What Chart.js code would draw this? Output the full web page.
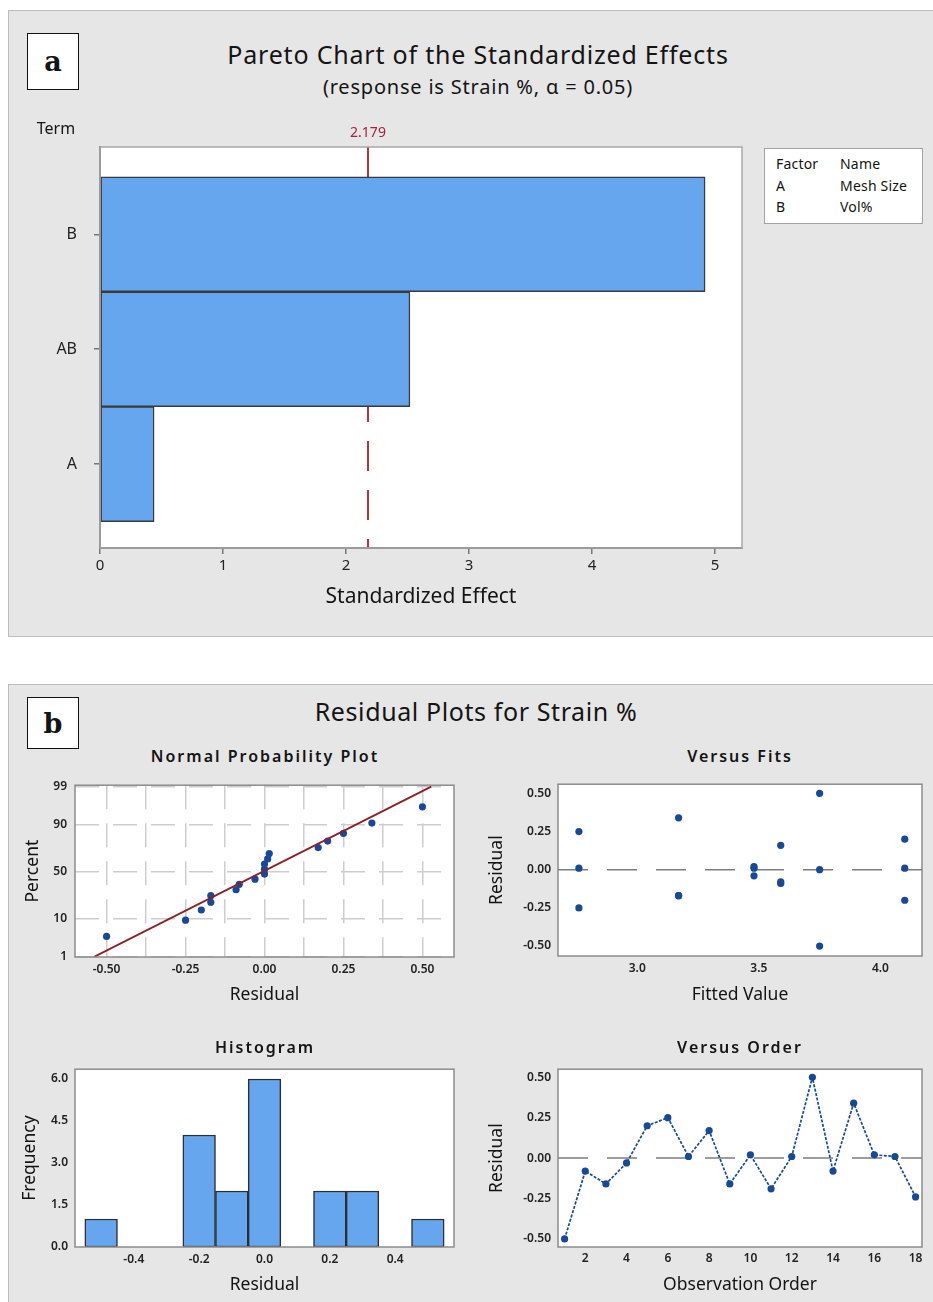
<!DOCTYPE html>
<html>
<head>
<meta charset="utf-8">
<script src="https://cdn.jsdelivr.net/npm/chart.js@4.4.0/dist/chart.umd.min.js"></script>
<style>
    body { margin: 0; width: 933px; height: 1302px; position: relative; overflow: hidden; background: #fff; font-family: "Noto Sans", sans-serif; color: #141414; }
    .panel { position: absolute; left: 8px; width: 940px; background: #e6e6e6; border: 1.5px solid #bdbdbd; box-sizing: border-box; }
    canvas { position: absolute; }
    .c { position: absolute; transform: translate(-50%, -50%); white-space: nowrap; line-height: 1; }
    .tag { position: absolute; background: #fff; border: 1.5px solid #111; box-sizing: border-box; font-family: "DejaVu Serif", "Liberation Serif", serif; font-weight: bold; font-size: 27px; display: flex; align-items: center; justify-content: center; }
    .sub { font-size: 16px; font-weight: 600; letter-spacing: 2px; }
    .legend { position: absolute; left: 764px; top: 148px; width: 159px; height: 76px; background: #fff; border: 1.5px solid #a3a3a3; box-sizing: border-box; font-size: 14px; letter-spacing: 0.2px; }
    .legend div { position: absolute; line-height: 1; }
</style>
</head>
<body>
<div class="panel" style="top:10px;height:627px"></div>
<div class="panel" style="top:684px;height:640px"></div>

<canvas id="paretoChart" width="925" height="536" style="left:8px;top:100px"></canvas>
<canvas id="nppChart" width="460" height="240" style="left:10px;top:770px"></canvas>
<canvas id="fitsChart" width="463" height="240" style="left:470px;top:770px"></canvas>
<canvas id="histChart" width="460" height="247" style="left:10px;top:1055px"></canvas>
<canvas id="orderChart" width="463" height="247" style="left:470px;top:1055px"></canvas>

<div class="tag" style="left:27px;top:33px;width:52px;height:57px">a</div>
<div class="c" style="left:478px;top:54px;font-size:25px;letter-spacing:0.8px">Pareto Chart of the Standardized Effects</div>
<div class="c" style="left:478px;top:87px;font-size:20px;letter-spacing:0.8px">(response is Strain %, α = 0.05)</div>
<div class="c" style="left:56px;top:128px;font-size:16px">Term</div>
<div class="legend">
    <div style="left:11px;top:8px">Factor</div><div style="left:75px;top:8px">Name</div>
    <div style="left:11px;top:30px">A</div><div style="left:75px;top:30px">Mesh Size</div>
    <div style="left:11px;top:51px">B</div><div style="left:75px;top:51px">Vol%</div>
</div>

<div class="tag" style="left:27px;top:697px;width:52px;height:52px">b</div>
<div class="c" style="left:476px;top:711px;font-size:25px;letter-spacing:0.6px">Residual Plots for Strain %</div>
<div class="c sub" style="left:265px;top:756px">Normal Probability Plot</div>
<div class="c sub" style="left:740px;top:756px">Versus Fits</div>
<div class="c sub" style="left:265px;top:1047px">Histogram</div>
<div class="c sub" style="left:740px;top:1047px">Versus Order</div>

<script>
// ================= DATA =================
const paretoTerms = ["A", "AB", "B"];
const paretoEffects = [0.44, 2.52, 4.92];
const paretoLimit = 2.179;
const paretoXTicks = [0, 1, 2, 3, 4, 5];

// normal probability plot (sorted residuals vs percent)
const nppResidual = [-0.50, -0.25, -0.20, -0.17, -0.17, -0.09, -0.08, -0.03, 0.00, 0.00, 0.00, 0.01, 0.015, 0.17, 0.20, 0.25, 0.34, 0.50];
const nppPercent = [3.8, 9.2, 14.7, 20.1, 25.5, 31.0, 36.4, 41.8, 47.3, 52.7, 58.2, 63.6, 69.0, 74.5, 79.9, 85.3, 90.8, 96.2];
const nppFitResidual = [-0.538, 0.528];
const nppFitPercent = [1, 99];
const nppXTicks = [-0.5, -0.375, -0.25, -0.125, 0, 0.125, 0.25, 0.375, 0.5];
const nppYTicks = [1, 10, 50, 90, 99];

// versus fits
const fitsFitted = [2.76, 2.76, 2.76, 3.17, 3.17, 3.17, 3.48, 3.48, 3.48, 3.59, 3.59, 3.59, 3.75, 3.75, 3.75, 4.10, 4.10, 4.10];
const fitsResidual = [0.25, 0.01, -0.25, 0.34, -0.17, -0.17, 0.02, 0.01, -0.04, 0.16, -0.09, -0.08, 0.50, 0.00, -0.50, 0.20, 0.01, -0.20];
const fitsXTicks = [3.0, 3.5, 4.0];
const residTicks = [-0.50, -0.25, 0.00, 0.25, 0.50];

// histogram
const histCenters = [-0.5, -0.4, -0.3, -0.2, -0.1, 0.0, 0.1, 0.2, 0.3, 0.4, 0.5];
const histCounts = [1, 0, 0, 4, 2, 6, 0, 2, 2, 0, 1];
const histXTicks = [-0.4, -0.2, 0.0, 0.2, 0.4];
const histYTicks = [0, 1.5, 3.0, 4.5, 6.0];

// versus order
const orderObs = [1, 2, 3, 4, 5, 6, 7, 8, 9, 10, 11, 12, 13, 14, 15, 16, 17, 18];
const orderResidual = [-0.50, -0.08, -0.16, -0.03, 0.20, 0.25, 0.01, 0.17, -0.16, 0.02, -0.19, 0.01, 0.50, -0.08, 0.34, 0.02, 0.01, -0.24];
const orderXTicks = [2, 4, 6, 8, 10, 12, 14, 16, 18];

// ================= HELPERS =================
const BAR_BLUE = "#65a6ee";
const DOT_BLUE = "#16499a";

Chart.defaults.font.family = "'Noto Sans', sans-serif";
Chart.defaults.color = "#222";

// inverse normal cdf (Acklam), used for the probability axis
function probit(p) {
    const a = [-39.6968302866538, 220.946098424521, -275.928510446969, 138.357751867269, -30.6647980661472, 2.50662827745924];
    const b = [-54.4760987982241, 161.585836858041, -155.698979859887, 66.8013118877197, -13.2806815528857];
    const c = [-0.00778489400243029, -0.322396458041136, -2.40075827716184, -2.54973253934373, 4.37466414146497, 2.93816398269878];
    const d = [0.00778469570904146, 0.32246712907004, 2.445134137143, 3.75440866190742];
    const pl = 0.02425;
    let q, r;
    if (p < pl) {
        q = Math.sqrt(-2 * Math.log(p));
        return (((((c[0] * q + c[1]) * q + c[2]) * q + c[3]) * q + c[4]) * q + c[5]) / ((((d[0] * q + d[1]) * q + d[2]) * q + d[3]) * q + 1);
    }
    if (p > 1 - pl) {
        q = Math.sqrt(-2 * Math.log(1 - p));
        return -(((((c[0] * q + c[1]) * q + c[2]) * q + c[3]) * q + c[4]) * q + c[5]) / ((((d[0] * q + d[1]) * q + d[2]) * q + d[3]) * q + 1);
    }
    q = p - 0.5;
    r = q * q;
    return (((((a[0] * r + a[1]) * r + a[2]) * r + a[3]) * r + a[4]) * r + a[5]) * q / (((((b[0] * r + b[1]) * r + b[2]) * r + b[3]) * r + b[4]) * r + 1);
}

function setTicks(values) {
    return axis => { axis.ticks = values.map(v => ({ value: v })); };
}

// white plot area + grey frame round it
const framePlugin = {
    id: "frame",
    beforeDraw(chart) {
        const a = chart.chartArea, ctx = chart.ctx;
        ctx.save();
        ctx.fillStyle = "#fff";
        ctx.fillRect(a.left, a.top, a.right - a.left, a.bottom - a.top);
        ctx.restore();
    },
    afterDatasetsDraw(chart, args, opts) {
        const a = chart.chartArea, ctx = chart.ctx;
        ctx.save();
        ctx.strokeStyle = opts.color || "#8c8c8c";
        ctx.lineWidth = opts.width || 1.5;
        ctx.strokeRect(a.left, a.top, a.right - a.left, a.bottom - a.top);
        ctx.restore();
    }
};

const refLinePlugin = {
    id: "refLine",
    beforeDatasetsDraw(chart, args, opts) {
        if (opts.value === undefined) return;
        const a = chart.chartArea, ctx = chart.ctx;
        ctx.save();
        ctx.strokeStyle = opts.color;
        ctx.lineWidth = opts.width;
        ctx.setLineDash(opts.dash);
        ctx.beginPath();
        if (opts.axis === "x") {
            const px = chart.scales.x.getPixelForValue(opts.value);
            ctx.moveTo(px, a.top);
            ctx.lineTo(px, a.bottom);
            ctx.stroke();
            if (opts.label) {
                ctx.setLineDash([]);
                ctx.fillStyle = opts.labelColor;
                ctx.font = opts.labelFont;
                ctx.textAlign = "center";
                ctx.textBaseline = "middle";
                ctx.fillText(opts.label, px, a.top - 14);
            }
        } else {
            const py = chart.scales.y.getPixelForValue(opts.value);
            ctx.moveTo(a.left, py);
            ctx.lineTo(a.right, py);
            ctx.stroke();
        }
        ctx.restore();
    }
};

const tickFont = { size: 12, weight: "600" };
const titleFont = { size: 17.5 };

function zeroLine() {
    return { axis: "y", value: 0, color: "#7d7d7d", width: 1.5, dash: [30, 19] };
}

// ================= PARETO CHART =================
new Chart(document.getElementById("paretoChart"), {
    type: "bar",
    data: {
        datasets: [{
            data: paretoEffects.map((v, i) => ({ x: v, y: i + 1 })),
            backgroundColor: BAR_BLUE,
            borderColor: "#3a3a3a",
            borderWidth: 1.5,
            borderSkipped: false,
            barPercentage: 1,
            categoryPercentage: 1
        }]
    },
    options: {
        indexAxis: "y",
        responsive: false,
        animation: false,
        devicePixelRatio: 1,
        layout: { padding: { left: 0, top: 47, right: 191, bottom: 0 } },
        plugins: {
            legend: { display: false },
            tooltip: { enabled: false },
            frame: { color: "#a8a8a8", width: 1.5 },
            refLine: { axis: "x", value: paretoLimit, color: "#b8303c", width: 2, dash: [30, 19],
                label: String(paretoLimit), labelColor: "#a3223f", labelFont: "14px 'Noto Sans'" }
        },
        scales: {
            x: {
                type: "linear", min: 0, max: 5.22, offset: false,
                afterBuildTicks: setTicks(paretoXTicks),
                afterFit: ax => { ax.height = 88; },
                grid: { drawOnChartArea: false, drawTicks: true, tickLength: 6, color: "#777", lineWidth: 1.5, offset: false },
                border: { color: "#777", width: 2 },
                ticks: { font: { size: 15 }, padding: 3, color: "#222" },
                title: { display: true, text: "Standardized Effect", font: { size: 21 }, color: "#141414", padding: { top: 0, bottom: 26 } }
            },
            y: {
                type: "linear", min: 0.27, max: 3.76, offset: false,
                afterBuildTicks: setTicks(paretoTerms.map((t, i) => i + 1)),
                afterFit: ax => { ax.width = 92; },
                grid: { drawOnChartArea: false, drawTicks: true, tickLength: 6, color: "#777", lineWidth: 1.5, offset: false },
                border: { color: "#777", width: 2 },
                ticks: { font: { size: 16 }, padding: 17, color: "#222", callback: v => paretoTerms[v - 1] }
            }
        }
    },
    plugins: [refLinePlugin, framePlugin]
});

// ================= NORMAL PROBABILITY PLOT =================
new Chart(document.getElementById("nppChart"), {
    type: "scatter",
    data: {
        datasets: [
            {
                data: nppFitResidual.map((v, i) => ({ x: v, y: probit(nppFitPercent[i] / 100) })),
                showLine: true,
                borderColor: "#8e1f24",
                borderWidth: 1.8,
                pointRadius: 0
            },
            {
                data: nppResidual.map((v, i) => ({ x: v, y: probit(nppPercent[i] / 100) })),
                backgroundColor: DOT_BLUE,
                borderWidth: 0,
                pointRadius: 3.6
            }
        ]
    },
    options: {
        responsive: false,
        animation: false,
        devicePixelRatio: 1,
        layout: { padding: { left: 0, top: 13, right: 16, bottom: 0 } },
        plugins: { legend: { display: false }, tooltip: { enabled: false }, frame: {} },
        scales: {
            x: {
                type: "linear", min: -0.6, max: 0.6,
                afterBuildTicks: setTicks(nppXTicks),
                afterFit: ax => { ax.height = 53; },
                grid: { color: "#cdcdcd", lineWidth: 1.5, drawTicks: false },
                border: { display: false, dash: [24, 14] },
                ticks: {
                    font: tickFont, padding: 5,
                    callback: v => Math.abs(v * 4 - Math.round(v * 4)) < 1e-6 ? v.toFixed(2) : ""
                },
                title: { display: true, text: "Residual", font: titleFont, color: "#141414", padding: { top: 0, bottom: 4 } }
            },
            y: {
                type: "linear", min: probit(0.01) - 0.01, max: probit(0.99) + 0.04,
                afterBuildTicks: setTicks(nppYTicks.map(p => probit(p / 100))),
                afterFit: ax => { ax.width = 65; },
                grid: { color: "#cdcdcd", lineWidth: 1.5, drawTicks: false },
                border: { display: false, dash: [24, 14] },
                ticks: { font: tickFont, padding: 8, callback: (v, i) => String(nppYTicks[i]) },
                title: { display: true, text: "Percent", font: titleFont, color: "#141414", padding: { top: 13, bottom: 0 } }
            }
        }
    },
    plugins: [framePlugin]
});

// ================= VERSUS FITS =================
new Chart(document.getElementById("fitsChart"), {
    type: "scatter",
    data: {
        datasets: [{
            data: fitsFitted.map((v, i) => ({ x: v, y: fitsResidual[i] })),
            backgroundColor: DOT_BLUE,
            borderWidth: 0,
            pointRadius: 3.6
        }]
    },
    options: {
        responsive: false,
        animation: false,
        devicePixelRatio: 1,
        layout: { padding: { left: 0, top: 14, right: 11, bottom: 0 } },
        plugins: { legend: { display: false }, tooltip: { enabled: false }, frame: {}, refLine: zeroLine() },
        scales: {
            x: {
                type: "linear", min: 2.674, max: 4.171,
                afterBuildTicks: setTicks(fitsXTicks),
                afterFit: ax => { ax.height = 54; },
                grid: { display: false, drawTicks: false },
                border: { display: false },
                ticks: { font: tickFont, padding: 5, callback: v => v.toFixed(1) },
                title: { display: true, text: "Fitted Value", font: titleFont, color: "#141414", padding: { top: 0, bottom: 4 } }
            },
            y: {
                type: "linear", min: -0.565, max: 0.56,
                afterBuildTicks: setTicks(residTicks),
                afterFit: ax => { ax.width = 88; },
                grid: { display: false, drawTicks: false },
                border: { display: false },
                ticks: { font: tickFont, padding: 7, callback: v => v.toFixed(2) },
                title: { display: true, text: "Residual", font: titleFont, color: "#141414", padding: { top: 17, bottom: 0 } }
            }
        }
    },
    plugins: [refLinePlugin, framePlugin]
});

// ================= HISTOGRAM =================
new Chart(document.getElementById("histChart"), {
    type: "bar",
    data: {
        datasets: [{
            data: histCenters.map((v, i) => ({ x: v, y: histCounts[i] })),
            backgroundColor: BAR_BLUE,
            borderColor: "#2e2e2e",
            borderWidth: 1.5,
            borderSkipped: false,
            barPercentage: 1,
            categoryPercentage: 1
        }]
    },
    options: {
        responsive: false,
        animation: false,
        devicePixelRatio: 1,
        layout: { padding: { left: 0, top: 12, right: 16, bottom: 0 } },
        plugins: { legend: { display: false }, tooltip: { enabled: false }, frame: {} },
        scales: {
            x: {
                type: "linear", min: -0.58, max: 0.58, offset: false,
                afterBuildTicks: setTicks(histXTicks),
                afterFit: ax => { ax.height = 55; },
                grid: { display: false, drawTicks: false, offset: false },
                border: { display: false },
                ticks: { font: tickFont, padding: 5, callback: v => v.toFixed(1) },
                title: { display: true, text: "Residual", font: titleFont, color: "#141414", padding: { top: 0, bottom: 6 } }
            },
            y: {
                type: "linear", min: 0, max: 6.35,
                afterBuildTicks: setTicks(histYTicks),
                afterFit: ax => { ax.width = 65; },
                grid: { display: false, drawTicks: false },
                border: { display: false },
                ticks: { font: tickFont, padding: 7, callback: v => v.toFixed(1) },
                title: { display: true, text: "Frequency", font: titleFont, color: "#141414", padding: { top: 10, bottom: 0 } }
            }
        }
    },
    plugins: [framePlugin]
});

// ================= VERSUS ORDER =================
new Chart(document.getElementById("orderChart"), {
    type: "line",
    data: {
        datasets: [{
            data: orderObs.map((v, i) => ({ x: v, y: orderResidual[i] })),
            borderColor: DOT_BLUE,
            backgroundColor: DOT_BLUE,
            borderWidth: 1.7,
            borderDash: [3, 1.5],
            pointRadius: 3.6,
            pointBorderWidth: 0,
            tension: 0
        }]
    },
    options: {
        responsive: false,
        animation: false,
        devicePixelRatio: 1,
        layout: { padding: { left: 0, top: 12, right: 11, bottom: 0 } },
        plugins: { legend: { display: false }, tooltip: { enabled: false }, frame: {}, refLine: zeroLine() },
        scales: {
            x: {
                type: "linear", min: 0.68, max: 18.31,
                afterBuildTicks: setTicks(orderXTicks),
                afterFit: ax => { ax.height = 55; },
                grid: { display: false, drawTicks: false },
                border: { display: false },
                ticks: { font: tickFont, padding: 4 },
                title: { display: true, text: "Observation Order", font: titleFont, color: "#141414", padding: { top: 0, bottom: 6 } }
            },
            y: {
                type: "linear", min: -0.55, max: 0.55,
                afterBuildTicks: setTicks(residTicks),
                afterFit: ax => { ax.width = 88; },
                grid: { display: false, drawTicks: false },
                border: { display: false },
                ticks: { font: tickFont, padding: 7, callback: v => v.toFixed(2) },
                title: { display: true, text: "Residual", font: titleFont, color: "#141414", padding: { top: 17, bottom: 0 } }
            }
        }
    },
    plugins: [refLinePlugin, framePlugin]
});
</script>
</body>
</html>
